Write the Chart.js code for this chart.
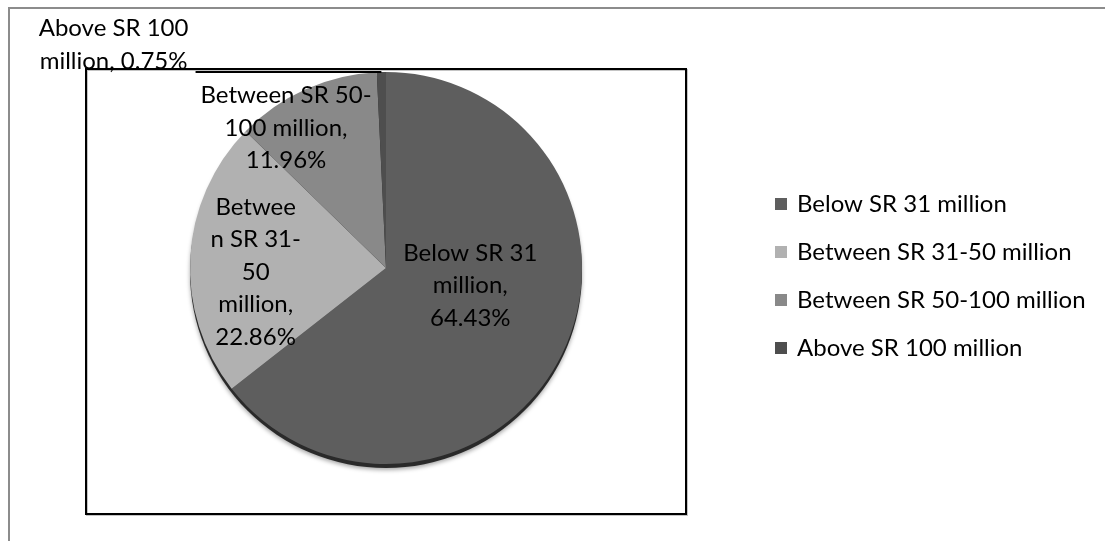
<!DOCTYPE html>
<html>
<head>
<meta charset="utf-8">
<script src="https://cdn.jsdelivr.net/npm/chart.js@4"></script>
<style>
  html, body { margin: 0; padding: 0; background: #fff; }
  #wrap { width: 1105px; height: 541px; }
</style>
</head>
<body>
<div id="wrap"><canvas id="pieChart"></canvas></div>
<script>
const labels = ["Below SR 31 million", "Between SR 31-50 million", "Between SR 50-100 million", "Above SR 100 million"];
const shares = [64.43, 22.86, 11.96, 0.75];
const sliceColors = ["#5e5e5e", "#b1b1b1", "#898989", "#4e4e4e"];
// how Excel wrapped each data label (last line is the share)
const labelText = [["Below SR 31", "million,"], ["Betwee", "n SR 31-", "50", "million,"], ["Between SR 50-", "100 million,"], ["Above SR 100", "million,"]];

const FONT = "24px Lato, 'Liberation Sans', sans-serif";
const LINE_H = 32.5;

// label centre, as a fraction of the radius from the pie centre
const labelSpots = [[0.43, 0.09], [-0.665, 0.02], [-0.51, -0.715], [-1.39, -1.14]];

function labelLines(i) {
    const lines = labelText[i].slice();
    if (i === 3) {
        lines[lines.length - 1] += " " + shares[i].toFixed(2) + "%";
    } else {
        lines.push(shares[i].toFixed(2) + "%");
    }
    return lines;
}

const framePlugin = {
    id: "frame",
    beforeDraw(chart) {
        const ctx = chart.ctx;
        ctx.save();
        ctx.fillStyle = "#fff";
        ctx.fillRect(0, 0, chart.width, chart.height);
        // outer gray border (runs off the right and bottom)
        ctx.strokeStyle = "#8c8c8c";
        ctx.lineWidth = 2;
        ctx.beginPath();
        ctx.moveTo(9, chart.height + 2);
        ctx.lineTo(9, 8);
        ctx.lineTo(chart.width + 2, 8);
        ctx.stroke();
        // plot area box
        ctx.strokeStyle = "#c4c4c4";
        ctx.strokeRect(87, 70, 600, 445);
        ctx.strokeStyle = "#000";
        ctx.strokeRect(86, 69, 600, 445);
        ctx.restore();
    },
    beforeDatasetsDraw(chart) {
        const arc = chart.getDatasetMeta(0).data[0];
        const ctx = chart.ctx;
        ctx.save();
        ctx.shadowColor = "rgba(0,0,0,0.35)";
        ctx.shadowBlur = 4;
        ctx.shadowOffsetY = 2;
        ctx.fillStyle = "#2a2a2a";
        ctx.beginPath();
        ctx.arc(arc.x, arc.y + 4, arc.outerRadius, 0, Math.PI * 2);
        ctx.fill();
        ctx.restore();
    },
    afterDatasetsDraw(chart) {
        const meta = chart.getDatasetMeta(0);
        const cx = meta.data[0].x, cy = meta.data[0].y, r = meta.data[0].outerRadius;
        const ctx = chart.ctx;
        ctx.save();
        ctx.font = FONT;
        ctx.fillStyle = "#000";
        ctx.textAlign = "center";
        ctx.textBaseline = "middle";
        labelSpots.forEach((spot, i) => {
            const lines = labelLines(i);
            const x = cx + spot[0] * r;
            const y = cy + spot[1] * r - (lines.length - 1) * LINE_H / 2;
            lines.forEach((t, k) => ctx.fillText(t, x, y + k * LINE_H));
        });
        // leader line for the tiny slice
        const tiny = meta.data[3];
        const mid = (tiny.startAngle + tiny.endAngle) / 2;
        const ex = cx + Math.cos(mid) * r, ey = cy + Math.sin(mid) * r;
        ctx.strokeStyle = "#000";
        ctx.lineWidth = 2;
        ctx.beginPath();
        ctx.moveTo(cx + labelSpots[3][0] * r + 82, ey);
        ctx.lineTo(ex, ey);
        ctx.stroke();
        ctx.restore();
    },
    afterDraw(chart) {
        const ctx = chart.ctx;
        ctx.save();
        ctx.font = FONT;
        ctx.textBaseline = "middle";
        labels.forEach((name, i) => {
            const y = 204 + i * 48;
            ctx.fillStyle = sliceColors[i];
            ctx.fillRect(775, y - 6, 12, 12);
            ctx.fillStyle = "#000";
            ctx.fillText(name, 797, y);
        });
        ctx.restore();
    }
};

new Chart(document.getElementById("pieChart"), {
    type: "pie",
    data: {
        labels: labels,
        datasets: [{
            data: shares,
            backgroundColor: sliceColors,
            borderWidth: 0
        }]
    },
    options: {
        responsive: true,
        maintainAspectRatio: false,
        animation: false,
        layout: { padding: { left: 186, right: 519, top: 72, bottom: 77 } },
        plugins: {
            legend: { display: false },
            tooltip: { enabled: false }
        }
    },
    plugins: [framePlugin]
});
</script>
</body>
</html>
